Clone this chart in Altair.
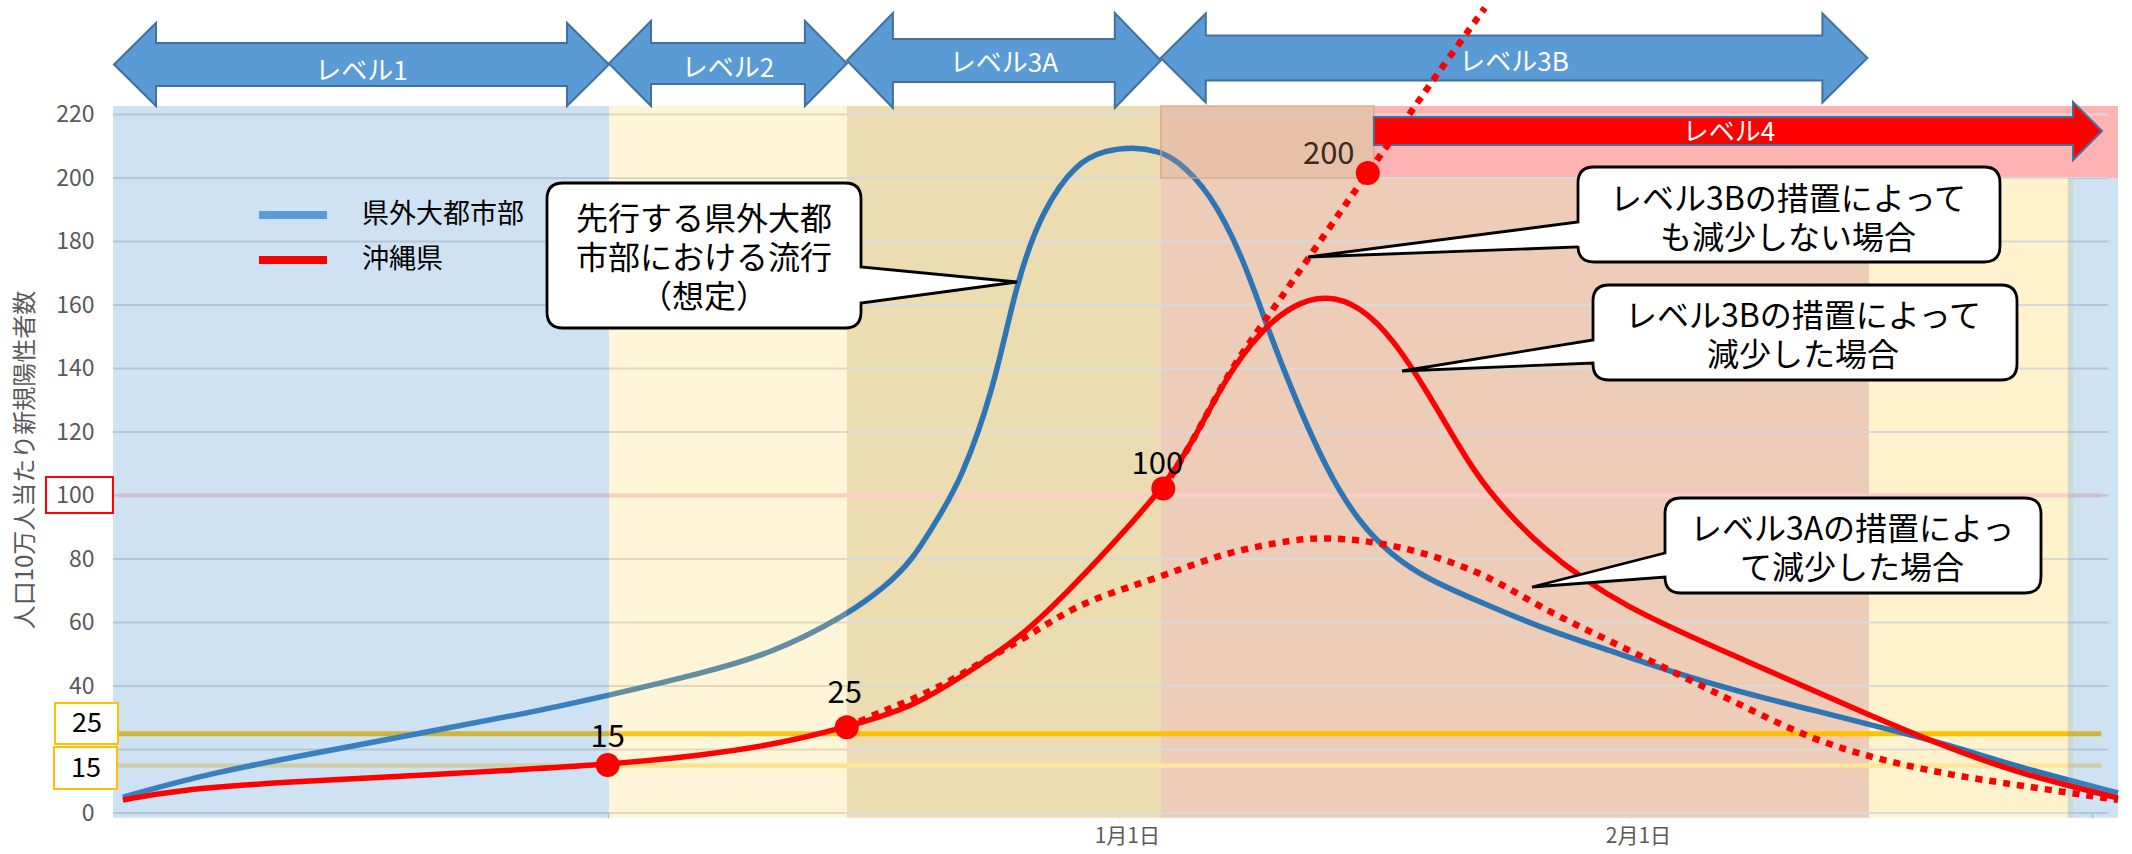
import altair as alt
import pandas as pd

FONT = "Noto Sans CJK JP"

# ---------------- data (x = days since 11/1, y = per 100k new positives) ----------------
blue_day = [0.6, 5.9, 12.3, 18.7, 25.1, 30.1, 35.7, 40.0, 44.5, 46.8, 48.5, 50.2, 51.4, 53.4, 54.8,
            56.4, 58.4, 60.2, 61.9, 63.4, 64.5, 66.5, 68.5, 70.0, 71.6, 73.6, 75.6, 77.6, 79.7,
            82.9, 86.5, 90.7, 94.8, 99.0, 103.1, 107.2, 111.4, 115.5, 121.6]
blue_val = [5.0, 12.6, 18.9, 25.2, 31.4, 37.1, 44.0, 50.3, 62.3, 71.1, 79.6, 94.3, 104.7, 132.8, 167.7,
            190.2, 204.8, 208.8, 209.8, 208.5, 205.9, 195.8, 175.5, 153.0, 131.7, 108.0, 91.2, 81.0, 73.7,
            66.5, 58.5, 51.3, 44.0, 37.7, 32.4, 27.0, 21.4, 14.5, 6.3]

red_day = [0.6, 3.8, 10.2, 18.7, 30.0, 35.7, 40.0, 44.5, 48.5, 51.4, 55.4, 59.4, 63.7, 65.5, 67.5,
           69.6, 71.6, 73.6, 75.6, 77.6, 79.7, 81.7, 83.2, 86.5, 91.5, 99.0, 107.2, 111.4, 115.5, 121.6]
red_val = [4.1, 7.2, 9.7, 11.9, 15.1, 18.2, 21.4, 27.0, 33.3, 42.8, 56.3, 77.7, 102.2, 117.0, 137.3,
           151.9, 160.3, 163.2, 159.8, 149.7, 132.8, 114.8, 102.5, 83.6, 64.8, 48.1, 29.2, 20.4, 12.6, 4.7]

lv3a_day = [44.5, 46.4, 48.5, 50.6, 52.5, 55.4, 57.4, 59.4, 63.5, 67.5, 71.6, 73.6, 77.6, 82.9, 86.5,
            90.7, 94.8, 99.0, 103.1, 107.2, 111.4, 115.5, 121.6]
lv3a_val = [27.0, 31.5, 35.8, 41.0, 47.0, 55.5, 62.0, 67.5, 74.3, 82.2, 86.1, 86.9, 85.0, 76.5, 64.8,
            54.4, 44.0, 33.3, 23.0, 16.7, 12.0, 8.8, 4.1]

lv3b_day = [63.7, 65.5, 67.5, 69.0, 70.6, 72.6, 74.6, 76.1, 78.65, 80.05, 83.2]
lv3b_val = [102.2, 117.0, 137.3, 148.8, 160.5, 175.5, 190.6, 201.6, 220.2, 230.9, 253.6]

pt_day = [30.0, 44.5, 63.7, 76.1]
pt_val = [15.1, 27.0, 102.2, 201.6]
pt_label = ["15", "25", "100", "200"]

level_names = ["レベル1", "レベル2", "レベル3A", "レベル3B"]
level_start = [0.06, 30.08, 44.51, 63.55]
level_end = [30.08, 44.51, 63.55, 106.4]
level4_name = "レベル4"
level4_start, level4_head, level4_tip = 76.47, 118.87, 120.63

ref_vals = [100, 25, 15]
ref_colors = ["#ffcccc", "#ffc000", "#ffe699"]
grid_vals = [0, 20, 40, 60, 80, 100, 120, 140, 160, 180, 200, 220]
y_tick_vals = [0, 40, 60, 80, 100, 120, 140, 160, 180, 200, 220]
x_tick_days = [30, 61, 92, 120]
x_label_days = [61, 92]
x_labels = ["1月1日", "2月1日"]

series_names = ["県外大都市部", "沖縄県"]
series_colors = ["#5b9bd5", "#ff0000"]

# background bands (opaque, under the curves)
band_x1 = [44.51, 63.55, 76.47, 106.5]
band_x2 = [63.55, 106.5, 121.6, 118.9]
band_y1 = [-1.5, -1.5, 200, -1.5]
band_y2 = [222.7, 222.7, 222.7, 200]
band_col = ["#ecdcb1", "#edccb8", "#feb2b2", "#fff2cc"]
# translucent overlays
ov_x1 = [0.0, 30.08, 63.55, 118.55]
ov_x2 = [30.08, 44.51, 76.47, 121.6]
ov_y1 = [-1.5, -1.5, 200, -1.5]
ov_y2 = [222.7, 222.7, 222.7, 200]
ov_col = ["#5b9bd5", "#ffd966", "#d9a080", "#5b9bd5"]
ov_op = [0.29, 0.25, 0.25, 0.29]

callouts = [
    (["先行する県外大都", "市部における流行", "（想定）"], 220, 704),
    (["レベル3Bの措置によって", "も減少しない場合"], 200, 1788),
    (["レベル3Bの措置によって", "減少した場合"], 317, 1803),
    (["レベル3Aの措置によっ", "て減少した場合"], 530, 1852),
]

# ---------------- geometry ----------------
W, H = 2005, 707
PL, PT, PR, PB = 113, 106, 14, 41
XMAX, YMAX = 121.6, 222.7


def sx(d):
    return d * W / XMAX


XS = alt.Scale(domain=[0, XMAX], nice=False, zero=False)
YS = alt.Scale(domain=[0, YMAX], nice=False, zero=False)
label_expr = " : ".join(f"datum.value == {v} ? '{t}'" for v, t in zip(x_label_days, x_labels)) + " : ''"
XAX = alt.Axis(values=x_tick_days, labelExpr=label_expr, title="", grid=False, domain=False,
               ticks=True, tickSize=5, tickColor="#cccccc", tickWidth=1.5, labelFontSize=21,
               labelColor="#595959", labelPadding=7, labelOffset=8, labelFont=FONT)
YAX = alt.Axis(values=y_tick_vals, title="人口10万人当たり新規陽性者数", grid=False, domain=False,
               ticks=False, labelFontSize=23, labelColor="#595959", labelPadding=19, labelFont=FONT,
               titleFont=FONT, titleFontSize=24, titleFontWeight="normal", titleColor="#595959",
               titleAngle=270, titleX=-88, titleY=H / 2, titleAlign="center", titleBaseline="middle")


def X(f):
    return alt.X(f, type="quantitative", scale=XS, axis=XAX)


def Y(f):
    return alt.Y(f, type="quantitative", scale=YS, axis=YAX)


one = pd.DataFrame({"k": [0]})


def txt(x, y, s, size, color="black", align="center", lh=None):
    kw = dict(text=s, fontSize=size, color=color, align=align, baseline="middle", font=FONT)
    if lh:
        kw["lineHeight"] = lh
    return alt.Chart(one).mark_text(**kw).encode(x=alt.value(x - PL), y=alt.value(y - PT))


def path_of(pts):
    return "M" + " L".join(f"{x - PL:.1f},{y - PT:.1f}" for x, y in pts) + " Z"


def shape(path, fill, stroke, sw):
    return alt.Chart(one).mark_point(shape=path, size=4, filled=True, fill=fill, color=fill,
                                     stroke=stroke, strokeWidth=sw, opacity=1, fillOpacity=1,
                                     strokeOpacity=1).encode(x=alt.value(0), y=alt.value(0))


def prect(x0, y0, x1, y1, fill, stroke, sw, fop=1.0):
    return alt.Chart(one).mark_rect(fill=fill, stroke=stroke, strokeWidth=sw, fillOpacity=fop).encode(
        x=alt.value(x0 - PL), x2=alt.value(x1 - PL), y=alt.value(y0 - PT), y2=alt.value(y1 - PT))


def callout_path(x0, y0, x1, y1, tx, ty, pa, pb, side, r=16):
    o = lambda x, y: f"{x - PL:.1f},{y - PT:.1f}"
    if side == "left":
        d = (f"M{o(x0 + r, y0)} L{o(x1 - r, y0)} Q{o(x1, y0)} {o(x1, y0 + r)} L{o(x1, y1 - r)} "
             f"Q{o(x1, y1)} {o(x1 - r, y1)} L{o(x0 + r, y1)} Q{o(x0, y1)} {o(x0, y1 - r)} "
             f"L{o(x0, pb)} L{o(tx, ty)} L{o(x0, pa)} L{o(x0, y0 + r)} Q{o(x0, y0)} {o(x0 + r, y0)} Z")
    else:
        d = (f"M{o(x0 + r, y0)} L{o(x1 - r, y0)} Q{o(x1, y0)} {o(x1, y0 + r)} L{o(x1, pa)} "
             f"L{o(tx, ty)} L{o(x1, pb)} L{o(x1, y1 - r)} Q{o(x1, y1)} {o(x1 - r, y1)} "
             f"L{o(x0 + r, y1)} Q{o(x0, y1)} {o(x0, y1 - r)} L{o(x0, y0 + r)} Q{o(x0, y0)} {o(x0 + r, y0)} Z")
    return d


layers = []

# opaque bands
bands = pd.DataFrame({"x1": band_x1, "x2": band_x2, "y1": band_y1, "y2": band_y2, "c": band_col})
layers.append(alt.Chart(bands).mark_rect().encode(
    x=X("x1"), x2=alt.X2("x2"), y=Y("y1"), y2=alt.Y2("y2"), color=alt.Color("c:N", scale=None)))

# gridlines
layers.append(alt.Chart(pd.DataFrame({"v": grid_vals})).mark_rule(color="#d9d9d9", strokeWidth=2).encode(
    y=Y("v"), x=alt.value(0), x2=alt.value(sx(121.0))))

# reference lines
ref_w = [4, 5, 4.5]
for v, c, w in zip(ref_vals, ref_colors, ref_w):
    layers.append(alt.Chart(pd.DataFrame({"v": [v], "a": [0.3], "b": [120.6]})).mark_rule(
        color=c, strokeWidth=w).encode(y=Y("v"), x=X("a"), x2=alt.X2("b")))

# blue curve
blue = pd.DataFrame({"day": blue_day, "val": blue_val})
layers.append(alt.Chart(blue).mark_line(color="#2e75b6", strokeWidth=5.5, interpolate="basis").encode(
    x=X("day"), y=Y("val")))

# overlays
ov = pd.DataFrame({"x1": ov_x1, "x2": ov_x2, "y1": ov_y1, "y2": ov_y2, "c": ov_col, "o": ov_op})
layers.append(alt.Chart(ov).mark_rect().encode(
    x=X("x1"), x2=alt.X2("x2"), y=Y("y1"), y2=alt.Y2("y2"), color=alt.Color("c:N", scale=None),
    opacity=alt.Opacity("o:Q", scale=None)))
layers.append(alt.Chart(ov.iloc[[2]]).mark_rect(fillOpacity=0, stroke="#d8a07c", strokeWidth=1.5,
                                                strokeOpacity=0.8).encode(
    x=X("x1"), x2=alt.X2("x2"), y=Y("y1"), y2=alt.Y2("y2")))

# arrows
arrow_geo = [(64.5, 41.5, 21.5, 42), (63.5, 42.5, 20.5, 42), (60.5, 47.5, 21.5, 46), (58, 44.5, 22.5, 45)]
for (yc, hh, sh, hw), a, b in zip(arrow_geo, level_start, level_end):
    xl, xr = PL + sx(a), PL + sx(b)
    pts = [(xl, yc), (xl + hw, yc - hh), (xl + hw, yc - sh), (xr - hw, yc - sh), (xr - hw, yc - hh),
           (xr, yc), (xr - hw, yc + hh), (xr - hw, yc + sh), (xl + hw, yc + sh), (xl + hw, yc + hh)]
    layers.append(shape(path_of(pts), "#5b9bd5", "#41719c", 2))
xs, hb, tp, yc = PL + sx(level4_start), PL + sx(level4_head), PL + sx(level4_tip), 131
pts4 = [(xs, yc - 14), (hb, yc - 14), (hb, yc - 29), (tp, yc), (hb, yc + 29), (hb, yc + 14), (xs, yc + 14)]
layers.append(shape(path_of(pts4), "#ff0000", "#41719c", 2))
lvl_text_y = [72, 69, 64, 63]
for name, a, b, ty in zip(level_names, level_start, level_end, lvl_text_y):
    layers.append(txt(PL + (sx(a) + sx(b)) / 2, ty, name, 26, "white"))
layers.append(txt(1729, 133, level4_name, 26, "white"))

# red curves
red = pd.DataFrame({"day": red_day, "val": red_val})
layers.append(alt.Chart(red).mark_line(color="#ff0000", strokeWidth=5.5, interpolate="basis").encode(
    x=X("day"), y=Y("val")))
for dd, vv in [(lv3a_day, lv3a_val), (lv3b_day, lv3b_val)]:
    layers.append(alt.Chart(pd.DataFrame({"day": dd, "val": vv})).mark_line(
        color="#ff0000", strokeWidth=6.5, strokeDash=[7, 7], strokeCap="butt", interpolate="basis").encode(
        x=X("day"), y=Y("val")))

# milestone points + labels
pts = pd.DataFrame({"day": pt_day, "val": pt_val, "lab": pt_label})
layers.append(alt.Chart(pts).mark_circle(size=576, color="#ff0000", opacity=1).encode(x=X("day"), y=Y("val")))
lab_off = [(0, -27, "black"), (-2, -33, "black"), (-6, -24, "black"), (-39, -18, "#3a2a1e")]
for i, (dx, dy, col) in enumerate(lab_off):
    layers.append(alt.Chart(pts.iloc[[i]]).mark_text(fontSize=31, dx=dx, dy=dy, color=col, font=FONT,
                                                     baseline="middle").encode(
        x=X("day"), y=Y("val"), text="lab:N"))

# callouts
boxes = [
    (547, 183, 861, 328, 1017, 282, 267, 303, "right"),
    (1578, 167, 2000, 262, 1308, 257, 222, 247, "left"),
    (1593, 285, 2017, 380, 1402, 371, 340, 363, "left"),
    (1665, 498, 2041, 593, 1532, 587, 553, 577, "left"),
]
for bx, (lines, cy, cx) in zip(boxes, callouts):
    layers.append(shape(callout_path(*bx), "white", "black", 2.8))
    layers.append(txt(cx, cy, lines, 32, lh=39))

# legend
leg_y = [215, 260]
for name, col, yy in zip(series_names, series_colors, leg_y):
    layers.append(prect(259, yy - 4, 327, yy + 4, col, col, 0))
    layers.append(txt(362, yy, name, 27, "black", "left"))

# highlighted axis labels
layers.append(prect(46, 477, 113, 513, "white", "#ff0000", 2, 0.0))
layers.append(prect(55, 703, 118, 744, "white", "#ffc000", 2))
layers.append(prect(54, 747, 117, 789, "white", "#ffc000", 2))
layers.append(txt(87, 724, "25", 27))
layers.append(txt(86, 769, "15", 27))

chart = alt.layer(*layers).properties(
    width=W, height=H,
    autosize=alt.AutoSizeParams(type="none"),
    padding={"left": PL, "top": PT, "right": PR, "bottom": PB},
    background="white",
).configure(font=FONT).configure_view(strokeWidth=0)

chart.save("out.html", embed_options={"renderer": "svg", "actions": False})
